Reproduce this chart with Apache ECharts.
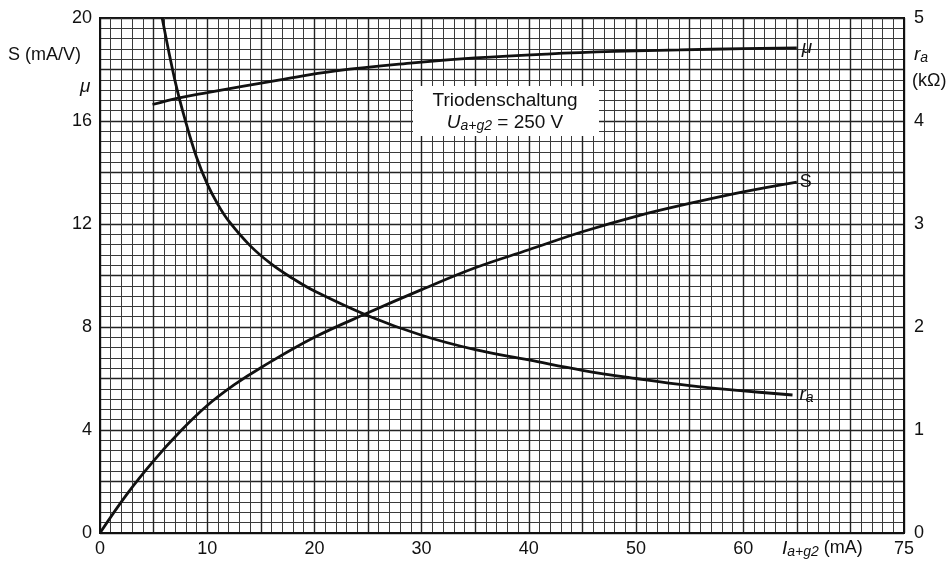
<!DOCTYPE html>
<html>
<head>
<meta charset="utf-8">
<script src="https://cdn.jsdelivr.net/npm/echarts@6/dist/echarts.min.js"></script>
<style>html,body{margin:0;padding:0;background:#fff}#c{width:951px;height:567px}</style>
</head>
<body>
<div id="c"></div>
<script>
// Data
const muI   = [4.9, 7.4, 10, 16.8, 22, 29.2, 35, 41.7, 48, 54.1, 60, 65];
const muVal = [16.64, 16.9, 17.1, 17.6, 17.95, 18.26, 18.45, 18.6, 18.7, 18.76, 18.81, 18.84];
const sI    = [0, 2.5, 5, 7.5, 10, 12.5, 15, 20, 25, 30, 35, 40, 45, 50, 55, 60, 65];
const sVal  = [0, 1.5, 2.8, 3.95, 4.95, 5.75, 6.42, 7.6, 8.55, 9.45, 10.3, 11.0, 11.7, 12.3, 12.8, 13.25, 13.63];
const raI   = [5.8, 7, 8, 9, 10, 11, 12, 14, 16, 18, 20, 25, 30, 35, 40, 45, 50, 55, 60, 64.6];
const raVal = [5.0, 4.39, 3.99, 3.65, 3.39, 3.19, 3.03, 2.79, 2.61, 2.47, 2.35, 2.11, 1.92, 1.78, 1.68, 1.58, 1.50, 1.43, 1.38, 1.34];
const xLabels = [0, 10, 20, 30, 40, 50, 60, 75];
const leftLabels = [0, 4, 8, 12, 16, 20];
const rightLabels = [0, 1, 2, 3, 4, 5];

const FONT = 'Liberation Sans';
const F = (s, it) => (it ? 'italic ' : '') + s + 'px "Liberation Sans"';
const zip = (a, b) => a.map((v, i) => [v, b[i]]);
const chart = echarts.init(document.getElementById('c'));
const lineBase = { type: 'line', smooth: 0.4, showSymbol: false, symbol: 'none',
  lineStyle: { color: '#111', width: 2.8 }, silent: true, z: 5 };

chart.setOption({
  backgroundColor: '#fff',
  animation: false,
  textStyle: { fontFamily: FONT, color: '#111' },
  grid: { left: 100, right: 47, top: 18, bottom: 34, show: true, borderColor: '#111', borderWidth: 2, backgroundColor: 'transparent' },
  xAxis: {
    type: 'value', min: 0, max: 75, interval: 5,
    axisLine: { show: true, lineStyle: { color: '#111', width: 2 } },
    axisTick: { show: false },
    axisLabel: { fontSize: 18, color: '#111', margin: 7, fontFamily: FONT,
      formatter: v => xLabels.includes(v) ? String(v) : '' },
    splitLine: { show: true, lineStyle: { color: '#222', width: 1.4 } },
    minorTick: { show: false, splitNumber: 5 },
    minorSplitLine: { show: true, lineStyle: { color: '#3a3a3a', width: 1 } }
  },
  yAxis: [
    { type: 'value', min: 0, max: 20, interval: 2, position: 'left',
      axisLine: { show: true, lineStyle: { color: '#111', width: 2 } },
      axisTick: { show: false },
      axisLabel: { fontSize: 18, color: '#111', margin: 8, fontFamily: FONT,
        formatter: v => leftLabels.includes(v) ? String(v) : '' },
      splitLine: { show: true, lineStyle: { color: '#222', width: 1.4 } },
      minorTick: { show: false, splitNumber: 5 },
      minorSplitLine: { show: true, lineStyle: { color: '#3a3a3a', width: 1 } }
    },
    { type: 'value', min: 0, max: 5, interval: 1, position: 'right',
      axisLine: { show: true, lineStyle: { color: '#111', width: 2 } },
      axisTick: { show: false },
      axisLabel: { fontSize: 18, color: '#111', margin: 10, fontFamily: FONT,
        formatter: v => rightLabels.includes(v) ? String(v) : '' },
      splitLine: { show: false }
    }
  ],
  series: [
    Object.assign({}, lineBase, { name: 'mu', yAxisIndex: 0, data: zip(muI, muVal),
      endLabel: { show: true, formatter: 'μ', fontSize: 19, fontStyle: 'italic', color: '#111', distance: 5, fontFamily: FONT } }),
    Object.assign({}, lineBase, { name: 'S', yAxisIndex: 0, data: zip(sI, sVal),
      endLabel: { show: true, formatter: 'S', fontSize: 18, color: '#111', distance: 3, fontFamily: FONT } }),
    Object.assign({}, lineBase, { name: 'ra', yAxisIndex: 1, data: zip(raI, raVal),
      endLabel: { show: true, formatter: '{i|r}{s|a}', distance: 7,
        rich: { i: { fontSize: 19, fontStyle: 'italic', color: '#111', fontFamily: FONT },
                s: { fontSize: 14, fontStyle: 'italic', color: '#111', padding: [6, 0, 0, 0], fontFamily: FONT } } } })
  ],
  graphic: [
    { type: 'text', left: 8, top: 46, z: 60, style: { text: 'S (mA/V)', font: F(18), fill: '#111' } },
    { type: 'text', left: 80, top: 77, z: 60, style: { text: 'μ', font: F(19, true), fill: '#111' } },
    { type: 'text', left: 914, top: 45, z: 60, style: { text: '{i|r}{s|a}', rich: { i: { font: F(19, true), fill: '#111' }, s: { font: F(14, true), fill: '#111', padding: [7, 0, 0, 0] } } } },
    { type: 'text', left: 912, top: 72, z: 60, style: { text: '(kΩ)', font: F(18), fill: '#111' } },
    { type: 'text', left: 782, top: 539, z: 60, style: { text: '{i|I}{s|a+g2}{n| (mA)}', rich: { i: { font: F(19, true), fill: '#111' }, s: { font: F(14, true), fill: '#111', padding: [7, 0, 0, 0] }, n: { font: F(18), fill: '#111' } } } },
    { type: 'rect', left: 413, top: 86, z: 50, shape: { width: 186, height: 50 }, style: { fill: '#fff' } },
    { type: 'text', x: 505, y: 91, z: 60, style: { text: 'Triodenschaltung', font: F(19), fill: '#111', textAlign: 'center' } },
    { type: 'text', x: 505, y: 112, z: 60, style: { text: '{i|U}{s|a+g2}{n| = 250 V}', textAlign: 'center', rich: { i: { font: F(19, true), fill: '#111' }, s: { font: F(14, true), fill: '#111', padding: [7, 0, 0, 0] }, n: { font: F(19), fill: '#111' } } } }
  ]
});
</script>
</body>
</html>
